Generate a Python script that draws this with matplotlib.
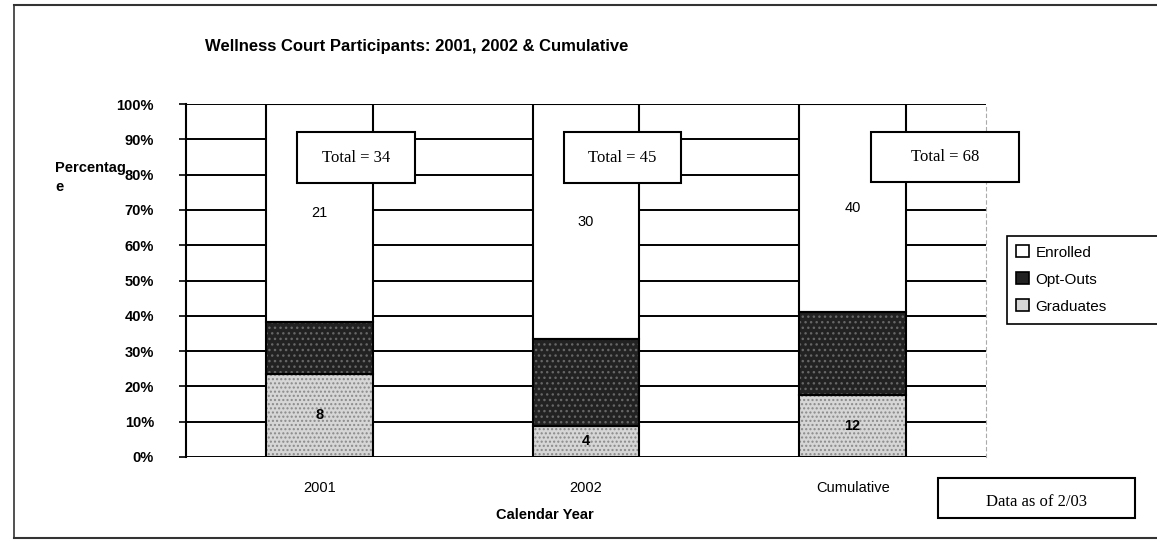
import matplotlib.pyplot as plt
import numpy as np
from matplotlib.patches import Rectangle
from matplotlib.lines import Line2D

# counts per category
years = ["2001", "2002", "Cumulative"]
graduates = [8, 4, 12]
opt_outs = [5, 11, 16]
enrolled = [21, 30, 40]
totals = [34, 45, 68]
ytick_labels = ["0%", "10%", "20%", "30%", "40%", "50%", "60%", "70%", "80%", "90%", "100%"]

W, H = 1157, 542
fig = plt.figure(figsize=(W / 100, H / 100), dpi=100)
plt.rcParams['font.family'] = ['Liberation Sans', 'DejaVu Sans']

def fx(px):
    return px / W

def fy(py):
    return 1 - py / H

ax = fig.add_axes([fx(186), fy(457), fx(986) - fx(186), fy(104) - fy(457)])

x = np.arange(len(years))
tot = np.array(graduates) + np.array(opt_outs) + np.array(enrolled)
g = np.array(graduates) / tot
o = np.array(opt_outs) / tot
e = np.array(enrolled) / tot
bw = 0.4

# speckled fills: hatch layer then black outline
ax.bar(x, g, bw, color="#d6d6d6", edgecolor="#8a8a8a", hatch="....", linewidth=0, zorder=2)
ax.bar(x, o, bw, bottom=g, color="#222222", edgecolor="#666666", hatch="...", linewidth=0, zorder=2)
ax.bar(x, e, bw, bottom=g + o, color="white", linewidth=0, zorder=2)
ax.bar(x, g, bw, fill=False, edgecolor="black", linewidth=1.5, zorder=3)
ax.bar(x, o, bw, bottom=g, fill=False, edgecolor="black", linewidth=1.5, zorder=3)
ax.bar(x, e, bw, bottom=g + o, fill=False, edgecolor="black", linewidth=1.5, zorder=3)

for i in range(len(years)):
    ax.text(x[i], g[i] / 2, str(graduates[i]), ha="center", va="center",
            fontsize=10.5, fontweight="bold", zorder=4)
    ax.text(x[i], g[i] + o[i] + e[i] / 2, str(enrolled[i]), ha="center", va="center",
            fontsize=10.5, zorder=4)

ax.set_xlim(-0.5, 2.5)
ax.set_ylim(0, 1)
ax.set_yticks(np.linspace(0, 1, 11))
ax.set_yticklabels(ytick_labels, fontsize=10.5, fontweight="bold")
ax.tick_params(axis="y", length=5, width=1.2, pad=18)
ax.set_xticks(x)
ax.set_xticklabels(years, fontsize=10.5)
ax.tick_params(axis="x", length=0, pad=17)
ax.yaxis.grid(True, color="black", linewidth=1.4)
ax.set_axisbelow(True)
for s in ["top", "bottom"]:
    ax.spines[s].set_visible(False)
ax.spines["left"].set_linewidth(1.5)
ax.spines["right"].set_color("#aaaaaa")
ax.spines["right"].set_linestyle((0, (3, 3)))

# total boxes
boxes = [(297, 132, 118, 51), (564, 132, 117, 51), (871, 132, 148, 50)]
for (bx, by, bwid, bh), t in zip(boxes, totals):
    fig.add_artist(Rectangle((fx(bx), fy(by + bh)), bwid / W, bh / H, facecolor="white",
                             edgecolor="black", linewidth=1.5, transform=fig.transFigure, zorder=5))
    fig.text(fx(bx + bwid / 2), fy(by + bh / 2), "Total = %d" % t, ha="center", va="center",
             fontsize=12, family="Liberation Serif", zorder=6)

fig.text(fx(205), fy(46), "Wellness Court Participants: 2001, 2002 & Cumulative",
         fontsize=12, fontweight="bold", ha="left", va="center")
fig.text(fx(55), fy(168), "Percentag", fontsize=10.5, fontweight="bold", ha="left", va="center")
fig.text(fx(55), fy(187), "e", fontsize=10.5, fontweight="bold", ha="left", va="center")
fig.text(fx(545), fy(515), "Calendar Year", fontsize=10.5, fontweight="bold", ha="center", va="center")

# data note box
fig.add_artist(Rectangle((fx(938), fy(518)), 197 / W, 40 / H, facecolor="white",
                         edgecolor="black", linewidth=1.5, transform=fig.transFigure))
fig.text(fx(1036), fy(502), "Data as of 2/03", ha="center", va="center",
         fontsize=12, family="Liberation Serif")

# legend (frame runs off the right edge like the scan)
fig.add_artist(Rectangle((fx(1007), fy(324)), 160 / W, 88 / H, facecolor="white",
                         edgecolor="black", linewidth=1.2, transform=fig.transFigure))
handles = [Rectangle((0, 0), 1, 1, facecolor="white", edgecolor="black", linewidth=1.2),
           Rectangle((0, 0), 1, 1, facecolor="#222222", edgecolor="black", linewidth=1.2),
           Rectangle((0, 0), 1, 1, facecolor="#d6d6d6", edgecolor="black", linewidth=1.2)]
leg = fig.legend(handles, ["Enrolled", "Opt-Outs", "Graduates"], loc="upper left",
                 bbox_to_anchor=(fx(1007), fy(236)), fontsize=11, frameon=False,
                 handlelength=0.8, handleheight=0.8, handletextpad=0.45,
                 borderpad=0.62, labelspacing=0.84, borderaxespad=0)
leg.set_zorder(6)

# outer frame
fig.add_artist(Line2D([fx(14), 1], [fy(5), fy(5)], color="#333333", lw=1.5, transform=fig.transFigure))
fig.add_artist(Line2D([fx(14), fx(14)], [fy(5), fy(538)], color="#333333", lw=1.2, transform=fig.transFigure))
fig.add_artist(Line2D([fx(14), 1], [fy(538), fy(538)], color="#333333", lw=1.5, transform=fig.transFigure))

fig.savefig("out.png", dpi=100)
